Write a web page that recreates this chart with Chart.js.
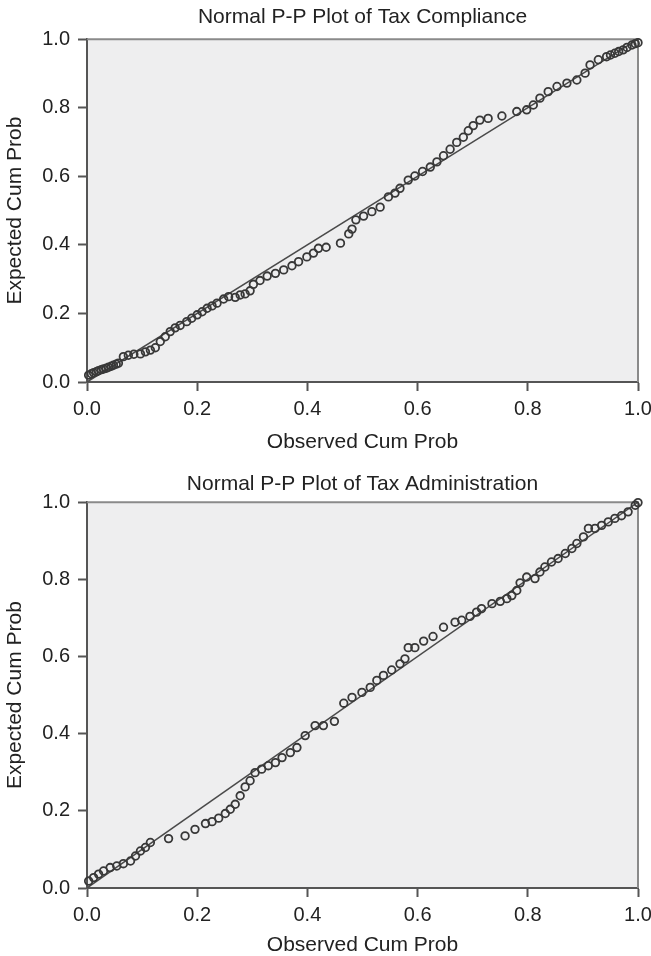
<!DOCTYPE html>
<html>
<head>
<meta charset="utf-8">
<title>Normal P-P Plots</title>
<script src="https://cdn.jsdelivr.net/npm/chart.js@4.4.1/dist/chart.umd.min.js"></script>
<style>
  html, body { margin: 0; padding: 0; background: #fff; overflow: hidden; }
  #wrap { position: relative; width: 651px; height: 956px; }
  canvas { position: absolute; left: 0; }
  #complianceChart { top: 0; }
  #adminChart { top: 458px; }
</style>
</head>
<body>
<div id="wrap">
  <canvas id="complianceChart" width="651" height="458"></canvas>
  <canvas id="adminChart" width="651" height="500"></canvas>
</div>
<script>
const tickValues = [0, 0.2, 0.4, 0.6, 0.8, 1.0];
const xAxisTitle = "Observed Cum Prob";
const yAxisTitle = "Expected Cum Prob";

const complianceTitle = "Normal P-P Plot of Tax Compliance";
const complianceObserved = [
  0.003, 0.008, 0.012, 0.017, 0.021, 0.026, 0.030, 0.035, 0.039, 0.044, 0.048, 0.053, 0.057,
  0.066, 0.075, 0.085, 0.097, 0.106, 0.115, 0.124, 0.133, 0.142, 0.151, 0.160, 0.169,
  0.181, 0.190, 0.200, 0.209, 0.218, 0.227, 0.236, 0.248, 0.257, 0.269, 0.278, 0.287, 0.296,
  0.302, 0.314, 0.327, 0.342, 0.357, 0.372, 0.384, 0.399, 0.411, 0.420, 0.434, 0.460,
  0.475, 0.481, 0.488, 0.502, 0.517, 0.532, 0.547, 0.559, 0.568, 0.583, 0.595, 0.609,
  0.623, 0.635, 0.647, 0.659, 0.671, 0.683, 0.692, 0.701, 0.713, 0.728, 0.753, 0.780,
  0.798, 0.810, 0.822, 0.837, 0.853, 0.871, 0.889, 0.904, 0.913, 0.928, 0.943, 0.950,
  0.958, 0.965, 0.973, 0.980, 0.989, 0.995, 1.0,
];
const complianceExpected = [
  0.020, 0.024, 0.027, 0.030, 0.033, 0.036, 0.038, 0.040, 0.043, 0.046, 0.049, 0.052, 0.055,
  0.074, 0.078, 0.081, 0.082, 0.088, 0.093, 0.100, 0.118, 0.132, 0.147, 0.158, 0.165,
  0.176, 0.186, 0.196, 0.205, 0.215, 0.222, 0.230, 0.242, 0.249, 0.247, 0.254, 0.257, 0.266,
  0.285, 0.296, 0.309, 0.317, 0.327, 0.339, 0.351, 0.365, 0.376, 0.390, 0.393, 0.405,
  0.432, 0.446, 0.473, 0.484, 0.497, 0.510, 0.540, 0.551, 0.565, 0.589, 0.601, 0.614,
  0.627, 0.642, 0.660, 0.679, 0.699, 0.714, 0.733, 0.748, 0.764, 0.769, 0.776, 0.789,
  0.794, 0.808, 0.828, 0.847, 0.862, 0.872, 0.881, 0.901, 0.925, 0.940, 0.949, 0.954,
  0.959, 0.964, 0.969, 0.976, 0.983, 0.987, 0.990,
];

const adminTitle = "Normal P-P Plot of Tax Administration";
const adminObserved = [
  0.003, 0.012, 0.021, 0.030, 0.042, 0.054, 0.066, 0.079, 0.088, 0.097, 0.106, 0.115,
  0.148, 0.178, 0.196, 0.215, 0.227, 0.239, 0.251, 0.260, 0.269, 0.278, 0.287, 0.296,
  0.305, 0.317, 0.329, 0.342, 0.354, 0.369, 0.381, 0.396, 0.414, 0.429, 0.449, 0.466,
  0.481, 0.499, 0.514, 0.526, 0.538, 0.553, 0.568, 0.577, 0.583, 0.595, 0.611, 0.628,
  0.647, 0.668, 0.680, 0.695, 0.707, 0.716, 0.735, 0.750, 0.762, 0.771, 0.780, 0.786,
  0.798, 0.813, 0.822, 0.831, 0.843, 0.855, 0.868, 0.880, 0.889, 0.901, 0.910, 0.922,
  0.934, 0.946, 0.958, 0.970, 0.982, 0.995, 1.0,
];
const adminExpected = [
  0.018, 0.027, 0.036, 0.044, 0.053, 0.057, 0.063, 0.070, 0.083, 0.096, 0.105, 0.118,
  0.128, 0.135, 0.152, 0.167, 0.172, 0.181, 0.193, 0.204, 0.217, 0.239, 0.262, 0.278,
  0.299, 0.308, 0.317, 0.325, 0.338, 0.351, 0.364, 0.395, 0.421, 0.421, 0.432, 0.479,
  0.494, 0.507, 0.520, 0.538, 0.551, 0.565, 0.581, 0.594, 0.623, 0.623, 0.640, 0.652,
  0.676, 0.689, 0.694, 0.704, 0.715, 0.724, 0.737, 0.743, 0.750, 0.758, 0.771, 0.791,
  0.806, 0.802, 0.819, 0.832, 0.845, 0.854, 0.867, 0.880, 0.893, 0.910, 0.932, 0.932,
  0.940, 0.949, 0.958, 0.965, 0.975, 0.992, 0.999,
];

const fontFamily = '"Liberation Sans", Arial, Helvetica, sans-serif';
const textColor = "#222";
const axisColor = "#555";

// grey plot area plus the thin top/right frame
const plotFrame = {
  id: "plotFrame",
  beforeDraw(chart) {
    const { ctx, chartArea: a } = chart;
    ctx.save();
    ctx.fillStyle = "#eeeeef";
    ctx.fillRect(a.left, a.top, a.right - a.left, a.bottom - a.top);
    ctx.restore();
  },
  beforeDatasetsDraw(chart) {
    const { ctx, chartArea: a } = chart;
    ctx.save();
    ctx.strokeStyle = "#8a8a8a";
    ctx.lineWidth = 2;
    ctx.beginPath();
    ctx.moveTo(a.left, a.top);
    ctx.lineTo(a.right, a.top);
    ctx.lineTo(a.right, a.bottom);
    ctx.stroke();
    ctx.restore();
  },
};

function toPoints(xs, ys) {
  return xs.map((x, i) => ({ x: x, y: ys[i] }));
}

function makePlot(canvasId, title, observed, expected, box) {
  const ctx = document.getElementById(canvasId).getContext("2d");
  const tickFont = { family: fontFamily, size: 20, lineHeight: 1.2 };
  const labelFont = { family: fontFamily, size: 21, lineHeight: 1.2 };

  return new Chart(ctx, {
    type: "scatter",
    data: {
      datasets: [
        {
          label: "reference",
          data: [
            { x: tickValues[0], y: tickValues[0] },
            { x: tickValues[tickValues.length - 1], y: tickValues[tickValues.length - 1] },
          ],
          showLine: true,
          pointRadius: 0,
          borderColor: "#4a4a4a",
          borderWidth: 1.5,
          order: 2,
        },
        {
          label: title,
          data: toPoints(observed, expected),
          pointStyle: "circle",
          pointRadius: 3.8,
          pointBorderWidth: 1.8,
          pointBorderColor: "#383838",
          pointBackgroundColor: "rgba(0,0,0,0)",
          clip: 5,
          order: 1,
        },
      ],
    },
    options: {
      responsive: false,
      animation: false,
      layout: { padding: 0 },
      plugins: {
        legend: { display: false },
        tooltip: { enabled: false },
        title: {
          display: true,
          fullSize: false,
          text: title,
          color: textColor,
          font: { family: fontFamily, size: 21, weight: "normal", lineHeight: 1.2 },
          padding: { top: box.titleTop, bottom: box.titleBottom },
        },
      },
      scales: {
        x: {
          type: "linear",
          min: 0,
          max: 1,
          afterBuildTicks: (s) => {
            s.ticks = tickValues.map((v) => ({ value: v }));
          },
          afterFit: (s) => {
            s.height = box.xHeight;
            s.paddingRight = 13;
          },
          ticks: {
            padding: 6,
            color: textColor,
            font: tickFont,
            maxRotation: 0,
            autoSkip: false,
            callback: (v) => Number(v).toFixed(1),
          },
          grid: {
            drawOnChartArea: false,
            drawTicks: true,
            tickLength: 9,
            tickColor: axisColor,
            tickWidth: 2,
          },
          border: { display: true, color: axisColor, width: 2 },
          title: {
            display: true,
            text: xAxisTitle,
            color: textColor,
            font: labelFont,
            padding: { top: 0, bottom: box.xTitleBottom },
          },
        },
        y: {
          type: "linear",
          min: 0,
          max: 1,
          afterBuildTicks: (s) => {
            s.ticks = tickValues.map((v) => ({ value: v }));
          },
          afterFit: (s) => {
            s.width = 87;
          },
          ticks: {
            padding: 8,
            color: textColor,
            font: tickFont,
            autoSkip: false,
            callback: (v) => Number(v).toFixed(1),
          },
          grid: {
            drawOnChartArea: false,
            drawTicks: true,
            tickLength: 9,
            tickColor: axisColor,
            tickWidth: 2,
          },
          border: { display: true, color: axisColor, width: 2 },
          title: {
            display: true,
            text: yAxisTitle,
            color: textColor,
            font: labelFont,
            padding: { top: 3, bottom: 0 },
          },
        },
      },
    },
    plugins: [plotFrame],
  });
}

makePlot("complianceChart", complianceTitle, complianceObserved, complianceExpected, {
  titleTop: 5,
  titleBottom: 9,
  xHeight: 76,
  xTitleBottom: 3,
});

makePlot("adminChart", adminTitle, adminObserved, adminExpected, {
  titleTop: 14,
  titleBottom: 5,
  xHeight: 70,
  xTitleBottom: 0,
});
</script>
</body>
</html>
